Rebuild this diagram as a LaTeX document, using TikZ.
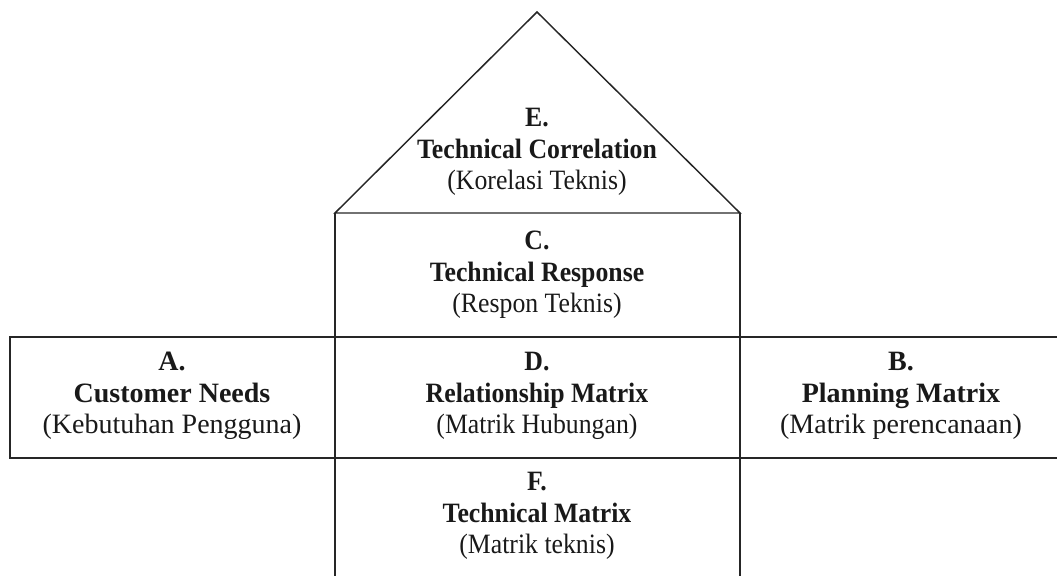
\documentclass[tikz,border=0pt]{standalone}
\usepackage{fontspec}
\setmainfont{Liberation Serif}
\newfontfamily\narrowserif[FakeStretch=0.92]{Liberation Serif}
\usetikzlibrary{positioning}

\tikzset{
  wall/.style={draw=black!85, line width=1.1pt},
  cell/.style={align=center, font=\fontsize{21}{23.5}\selectfont, text=black!90},
  inner cell/.style={cell, font=\narrowserif\fontsize{21}{23.5}\selectfont}
}

\begin{document}
\begin{tikzpicture}[x=0.75pt, y=-0.75pt]
\useasboundingbox (0,0) rectangle (1057,576);
% Corners of the house
\coordinate (apex) at (537,12);
\coordinate (eaveL) at (335,213);
\coordinate (eaveR) at (740,213);
\coordinate (footL) at (335,576);
\coordinate (footR) at (740,576);
\coordinate (rowTL) at (10,337);
\coordinate (rowBL) at (10,458);
\coordinate (rowTR) at (1057,337);
\coordinate (rowBR) at (1057,458);

% Roof, columns and row
\draw[wall] (eaveL) -- (apex) -- (eaveR) -- cycle;
\draw[wall] (eaveL) -- (footL);
\draw[wall] (eaveR) -- (footR);
\draw[wall] (rowTR) -- (rowTL) -- (rowBL) -- (rowBR);

% Labels
\node[inner cell] (E) at (537,152) {\textbf{E.}\\\textbf{Technical Correlation}\\(Korelasi Teknis)};
\node[inner cell] (C) at (537,275) {\textbf{C.}\\\textbf{Technical Response}\\(Respon Teknis)};
\node[cell] (A) at (172,396) {\textbf{A.}\\\textbf{Customer Needs}\\(Kebutuhan Pengguna)};
\node[inner cell] (D) at (537,396) {\textbf{D.}\\\textbf{Relationship Matrix}\\(Matrik Hubungan)};
\node[cell] (B) at (901,396) {\textbf{B.}\\\textbf{Planning Matrix}\\(Matrik perencanaan)};
\node[inner cell] (F) at (537,516) {\textbf{F.}\\\textbf{Technical Matrix}\\(Matrik teknis)};
\end{tikzpicture}
\end{document}
